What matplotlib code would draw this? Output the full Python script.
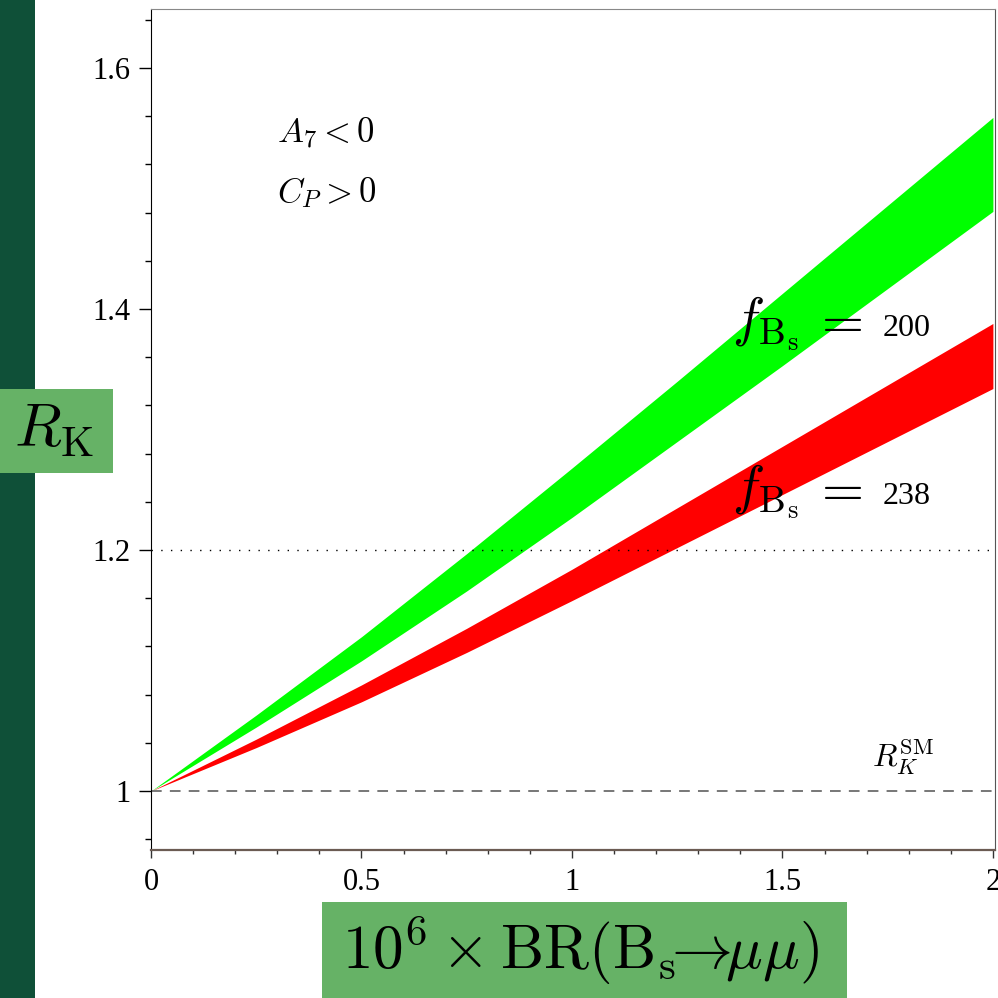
import numpy as np
import matplotlib
matplotlib.use("Agg")
import matplotlib.pyplot as plt
from matplotlib.patches import Rectangle
from matplotlib.ticker import MultipleLocator, FixedLocator

plt.rcParams["mathtext.fontset"] = "cm"
plt.rcParams["font.family"] = ["Liberation Serif", "DejaVu Serif"]

DARK = "#0f5038"
BOX = "#66b266"

# BR(Bs -> mu mu) in units of 1e-6
br = [0.0, 0.25, 0.5, 0.75, 1.0, 1.25, 1.5, 1.75, 2.0]

# R_K bands for f_Bs = 200 MeV
rk200_hi = [1.0, 1.063, 1.128, 1.197, 1.268, 1.340, 1.413, 1.486, 1.559]
rk200_lo = [1.0, 1.053, 1.108, 1.166, 1.227, 1.290, 1.353, 1.417, 1.481]

# R_K bands for f_Bs = 238 MeV
rk238_hi = [1.0, 1.043, 1.088, 1.135, 1.184, 1.235, 1.286, 1.337, 1.388]
rk238_lo = [1.0, 1.036, 1.074, 1.115, 1.158, 1.202, 1.246, 1.290, 1.334]

rk_sm = 1.0
rk_ref = 1.2

W = H = 998
fig = plt.figure(figsize=(W / 100, H / 100), dpi=100)
ax = fig.add_axes([151 / W, (H - 850) / H, (995 - 151) / W, (850 - 9) / H])

ax.fill_between(br, rk200_lo, rk200_hi, color="#00ff00", lw=0)
ax.fill_between(br, rk238_lo, rk238_hi, color="#ff0000", lw=0)

ax.axhline(rk_sm, color="#777777", lw=1.4, dashes=(5.5, 4.2))
ax.axhline(rk_ref, color="black", lw=1.0, dashes=(1, 6))

ax.set_xlim(0, 2.005)
ax.set_ylim(0.951, 1.649)

ax.xaxis.set_major_locator(FixedLocator([0, 0.5, 1, 1.5, 2]))
ax.set_xticklabels(["0", "0.5", "1", "1.5", "2"])
ax.xaxis.set_minor_locator(MultipleLocator(0.1))
ax.yaxis.set_major_locator(FixedLocator([1.0, 1.2, 1.4, 1.6]))
ax.set_yticklabels(["1", "1.2", "1.4", "1.6"])
ax.yaxis.set_minor_locator(MultipleLocator(0.04))

ax.tick_params(axis="both", which="major", labelsize=22, direction="out")
ax.tick_params(axis="x", which="major", length=6, width=1, color="#333333", pad=7)
ax.tick_params(axis="x", which="minor", length=3, width=1, color="#333333")
ax.tick_params(axis="y", which="major", length=9, width=1, pad=6)
ax.tick_params(axis="y", which="minor", length=4, width=1)

ax.spines["left"].set_color("black")
ax.spines["bottom"].set_color("#6b5b53")
ax.spines["bottom"].set_linewidth(1.6)
ax.spines["top"].set_color("#888888")
ax.spines["right"].set_color("#555555")
for s in ax.spines.values():
    s.set_zorder(5)

# annotations inside the plot
ax.text(0.300, 1.538, r"$A_7 < 0$", fontsize=25, va="baseline")
ax.text(0.300, 1.4886, r"$C_P > 0$", fontsize=25, va="baseline")

for y, val in [(1.378, "200"), (1.2385, "238")]:
    ax.text(1.380, y, r"$f_{\mathrm{B_s}}$", fontsize=39, va="baseline")
    ax.text(1.570, y, r"$=$", fontsize=39, va="baseline")
    ax.text(1.737, y, val, fontsize=23, va="baseline")

ax.text(1.713, 1.020, r"$R_K^{\mathrm{SM}}$", fontsize=23, va="baseline")

# side bar and label boxes
fig.add_artist(Rectangle((0, 0), 35 / W, 1, transform=fig.transFigure,
                         color=DARK, lw=0, zorder=0))
fig.add_artist(Rectangle((0, (H - 473) / H), 113 / W, 84 / H,
                         transform=fig.transFigure, color=BOX, lw=0, zorder=1))
fig.add_artist(Rectangle((322 / W, 0), (847 - 322) / W, (H - 902) / H,
                         transform=fig.transFigure, color=BOX, lw=0, zorder=1))

fig.text(14 / W, (H - 447) / H, r"$R_\mathrm{K}$", fontsize=44,
         va="baseline", ha="left", zorder=3)
fig.text(581 / W, (H - 969) / H,
         r"$10^6\times\mathrm{BR}(\mathrm{B_s}\!\!\to\!\!\mu\mu)$",
         fontsize=44, va="baseline", ha="center", zorder=3)

fig.savefig("out.png", dpi=100)
